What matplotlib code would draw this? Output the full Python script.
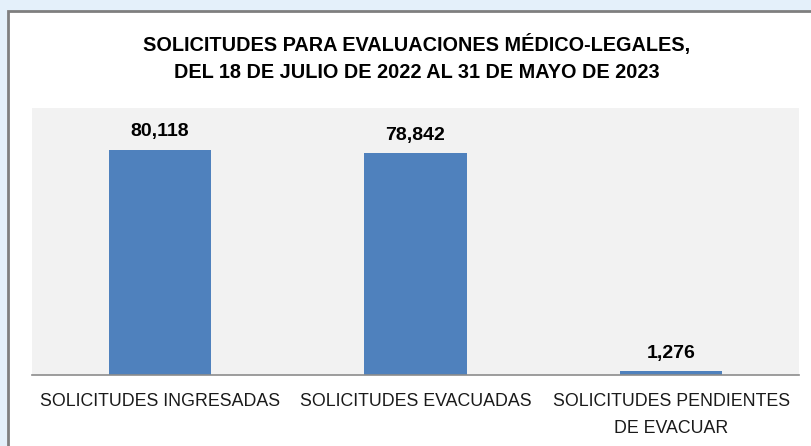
import matplotlib
matplotlib.use("Agg")
import matplotlib.pyplot as plt
from matplotlib.patches import Rectangle

categories = ["SOLICITUDES INGRESADAS", "SOLICITUDES EVACUADAS",
              "SOLICITUDES PENDIENTES\nDE EVACUAR"]
values = [80118, 78842, 1276]
title = "SOLICITUDES PARA EVALUACIONES MÉDICO-LEGALES,\nDEL 18 DE JULIO DE 2022 AL 31 DE MAYO DE 2023"

W, H = 812, 446
fig = plt.figure(figsize=(W / 100, H / 100), dpi=100)
fig.patch.set_facecolor("#e4f0fa")

# white card with grey border, behind the axes
card = Rectangle((8 / W, -0.1), 1.1, 1 - 11 / H + 0.1, transform=fig.transFigure,
                 facecolor="white", edgecolor="#7f7f7f", linewidth=2, zorder=-1)
fig.patches.append(card)

ax = fig.add_axes([32 / W, 1 - 375 / H, (799 - 32) / W, (375 - 108) / H])
ax.set_facecolor("#f2f2f2")

x = range(len(categories))
ax.bar(x, values, width=0.4, color="#4f81bd", zorder=2)
for xi, v in zip(x, values):
    ax.annotate(f"{v:,}", (xi, v), xytext=(0, 7), textcoords="offset points",
                ha="center", va="bottom", fontsize=14, fontweight="bold",
                family="Liberation Sans")

ax.set_xlim(-0.5, 2.5)
ax.set_ylim(0, 95000)
ax.set_xticks(list(x))
ax.set_xticklabels(categories, fontsize=12.8, family="Liberation Sans",
                   color="#1a1a1a", linespacing=1.8)
ax.tick_params(axis="x", length=0, pad=13)
ax.set_yticks([])
for s in ["top", "left", "right"]:
    ax.spines[s].set_visible(False)
ax.spines["bottom"].set_color("#8c8c8c")
ax.spines["bottom"].set_linewidth(1.2)

fig.text(417 / W, 1 - 58 / H, title, ha="center", va="center", fontsize=14.3,
         fontweight="bold", family="Liberation Sans", linespacing=1.5)

fig.savefig("out.png", dpi=100, facecolor=fig.get_facecolor())
